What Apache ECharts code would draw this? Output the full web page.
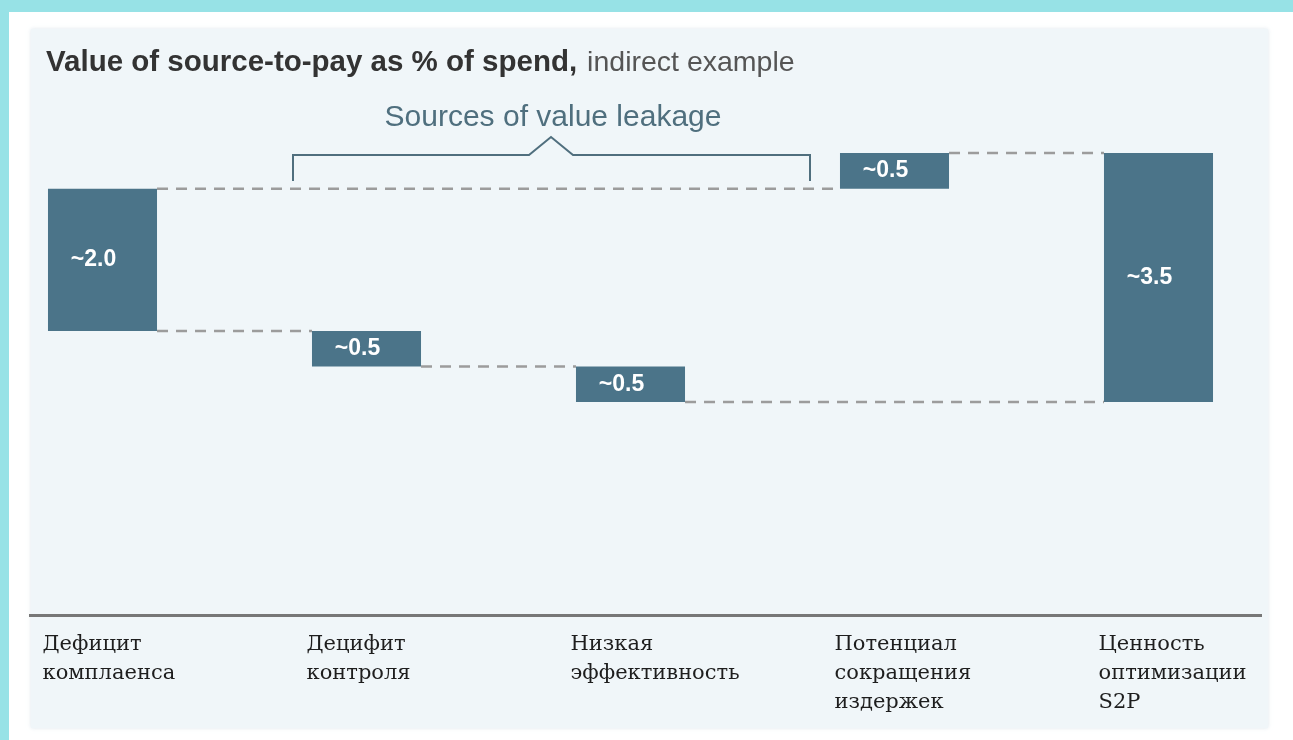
<!DOCTYPE html>
<html>
<head>
<meta charset="utf-8">
<script src="https://cdn.jsdelivr.net/npm/echarts@6/dist/echarts.min.js"></script>
<style>
  html, body { margin: 0; padding: 0; width: 1293px; height: 740px; overflow: hidden; background: #97e2e6; }
  #sheet { position: absolute; left: 9px; top: 12px; width: 1284px; height: 728px; background: #ffffff; }
  #panel { position: absolute; left: 31px; top: 29px; width: 1237px; height: 699px; background: #f0f6f9;
           box-shadow: 0 0 4px rgba(200, 215, 225, 0.6); }
  #chart { position: absolute; left: 0; top: 0; width: 1293px; height: 740px; }
</style>
</head>
<body>
<div id="sheet"></div>
<div id="panel"></div>
<div id="chart"></div>
<script>
// Waterfall steps: each step floats on its base and spans its value (% of spend)
const categories = [
  'Дефицит\nкомплаенса',
  'Децифит\nконтроля',
  'Низкая\nэффективность',
  'Потенциал\nсокращения\nиздержек',
  'Ценность\nоптимизации\nS2P'
];
const stepValues = [2.0, 0.5, 0.5, 0.5, 3.5];
const stepBase   = [1.0, 0.5, 0.0, 3.0, 0.0];
// Dashed connectors: [from step, to step, level]
const connectorLinks = [
  [0, 3, 3.0],
  [0, 1, 1.0],
  [1, 2, 0.5],
  [2, 4, 0.0],
  [3, 4, 3.5]
];
const titleBold = 'Value of source-to-pay as % of spend,';
const titleLight = 'indirect example';
const bracketLabel = 'Sources of value leakage';

const BAR_RATIO = 0.413;
const chart = echarts.init(document.getElementById('chart'), null, { renderer: 'canvas' });

const gridTop = 117.5, gridBottom = 124.5;

chart.setOption({
  backgroundColor: 'transparent',
  animation: false,
  grid: { left: 102.5, right: 134.5, top: gridTop, bottom: gridBottom, containLabel: false },
  xAxis: {
    type: 'category',
    data: categories,
    boundaryGap: false,
    axisLine: { show: false },
    axisTick: { show: false },
    splitLine: { show: false },
    axisLabel: {
      interval: 0,
      align: 'left',
      verticalAlign: 'top',
      padding: [0, 0, 0, -60],
      margin: 15,
      fontFamily: 'DejaVu Serif',
      fontSize: 21,
      lineHeight: 29,
      color: '#1e1e1e'
    }
  },
  yAxis: {
    type: 'value',
    min: -3,
    max: 4,
    interval: 1,
    show: false
  },
  graphic: [
    {
      type: 'text',
      left: 46,
      top: 48,
      style: {
        text: '{b|' + titleBold + '}{g|}{r|' + titleLight + '}',
        rich: {
          b: { fontFamily: 'Liberation Sans', fontWeight: 'bold', fontSize: 29.5, fill: '#333333' },
          g: { width: 10 },
          r: { fontFamily: 'Liberation Sans', fontWeight: 'normal', fontSize: 28.5, fill: '#555555' }
        }
      }
    },
    {
      type: 'text',
      x: 553,
      y: 118,
      style: {
        text: bracketLabel,
        fontFamily: 'Liberation Sans',
        fontSize: 30,
        fill: '#4f6f7e',
        textAlign: 'center',
        textVerticalAlign: 'middle'
      }
    },
    {
      type: 'polyline',
      shape: { points: [[293, 181], [293, 155], [529, 155], [551, 137], [573, 155], [810, 155], [810, 181]] },
      style: { stroke: '#506f7e', lineWidth: 2, fill: null }
    },
    {
      type: 'line',
      shape: { x1: 29, y1: 740 - gridBottom, x2: 1262, y2: 740 - gridBottom },
      style: { stroke: '#777777', lineWidth: 3 }
    }
  ],
  series: [
    {
      type: 'bar',
      stack: 'waterfall',
      data: stepBase,
      barWidth: (BAR_RATIO * 100) + '%',
      clip: false,
      silent: true,
      itemStyle: { color: 'transparent' }
    },
    {
      type: 'bar',
      stack: 'waterfall',
      data: stepValues,
      barWidth: (BAR_RATIO * 100) + '%',
      clip: false,
      itemStyle: { color: '#4b7489' },
      label: {
        show: true,
        position: 'inside',
        offset: [-9, 0],
        formatter: p => '~' + Number(p.value).toFixed(1),
        color: '#ffffff',
        fontFamily: 'Liberation Sans',
        fontWeight: 'bold',
        fontSize: 23
      }
    },
    {
      type: 'custom',
      data: connectorLinks,
      encode: { x: [0, 1], y: 2 },
      clip: false,
      silent: true,
      z: 1,
      renderItem: function (params, api) {
        const from = api.value(0), to = api.value(1), level = api.value(2);
        const half = api.size([1, 0])[0] * BAR_RATIO / 2;
        const a = api.coord([from, level]);
        const b = api.coord([to, level]);
        return {
          type: 'line',
          shape: { x1: a[0] + half, y1: a[1], x2: b[0] - half, y2: b[1] },
          style: { stroke: '#9c9c9c', lineWidth: 2.5, lineDash: [11, 8] }
        };
      }
    }
  ]
});
</script>
</body>
</html>
